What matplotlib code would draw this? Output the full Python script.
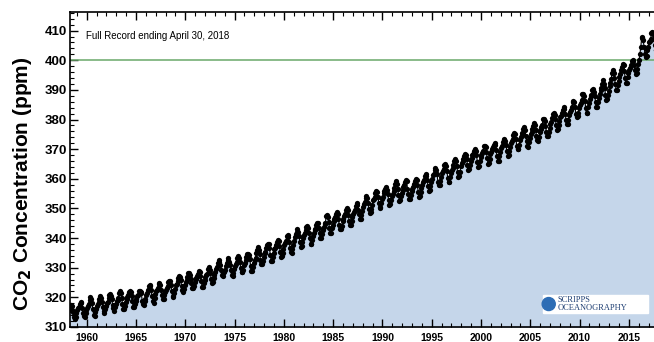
import numpy as np
import matplotlib
matplotlib.use("Agg")
import matplotlib.pyplot as plt
from matplotlib.patches import Ellipse, Rectangle
from matplotlib.ticker import MultipleLocator

plt.rcParams["font.family"] = ["Liberation Sans", "DejaVu Sans"]
plt.rcParams["mathtext.default"] = "bf"

# Monthly mean CO2 (ppm), Mauna Loa, March 1958 .. April 2018
START_YEAR, START_MONTH = 1958, 3
co2_ppm = [
    315.71, 317.45, 317.50, 317.10, 315.86, 314.93, 313.20, 312.66, 313.33, 314.67,
    315.62, 316.38, 316.71, 317.72, 318.29, 318.15, 316.54, 314.80, 313.84, 313.26, 314.80, 315.58,
    316.43, 316.97, 317.58, 319.02, 320.03, 319.59, 318.18, 315.91, 314.16, 313.83, 315.00, 316.19,
    316.93, 317.70, 318.54, 319.48, 320.58, 319.77, 318.57, 316.79, 314.80, 315.38, 316.10, 317.01,
    317.94, 318.56, 319.68, 320.63, 321.01, 320.55, 319.58, 317.40, 316.26, 315.42, 316.69, 317.69,
    318.74, 319.08, 319.86, 321.39, 322.25, 321.47, 319.74, 317.77, 316.21, 315.99, 317.12, 318.31,
    319.57, 320.07, 320.73, 321.77, 322.25, 321.89, 320.44, 318.70, 316.70, 316.79, 317.79, 318.71,
    319.44, 320.44, 320.89, 322.13, 322.16, 321.87, 321.39, 318.81, 317.81, 317.30, 318.87, 319.42,
    320.62, 321.59, 322.39, 323.87, 324.01, 323.75, 322.39, 320.37, 318.64, 318.10, 319.79, 321.08,
    322.07, 322.50, 323.04, 324.42, 325.00, 324.09, 322.55, 320.92, 319.31, 319.31, 320.72, 321.96,
    322.57, 323.15, 323.89, 325.02, 325.57, 325.36, 324.14, 322.03, 320.41, 320.25, 321.31, 322.84,
    324.00, 324.42, 325.64, 326.66, 327.34, 326.76, 325.88, 323.67, 322.38, 321.78, 322.85, 324.11,
    325.03, 325.99, 326.87, 328.13, 328.07, 327.66, 326.35, 324.69, 323.10, 323.16, 323.98, 325.13,
    326.17, 326.68, 327.18, 327.78, 328.92, 328.57, 327.34, 325.46, 323.36, 323.57, 324.80, 326.01,
    326.77, 327.63, 327.75, 329.72, 330.07, 329.09, 328.05, 326.32, 324.93, 325.06, 326.50, 327.55,
    328.54, 329.56, 330.30, 331.50, 332.48, 332.07, 330.87, 329.31, 327.51, 327.18, 328.16, 328.64,
    329.35, 330.71, 331.48, 332.65, 333.16, 332.06, 330.99, 329.17, 327.41, 327.20, 328.33, 329.50,
    330.68, 331.41, 331.85, 333.29, 333.91, 333.40, 331.78, 329.88, 328.57, 328.46, 329.26, 330.97,
    331.71, 332.76, 333.48, 334.78, 334.78, 334.17, 332.78, 330.64, 328.95, 328.77, 330.23, 331.69,
    332.70, 333.24, 334.96, 336.04, 336.82, 336.13, 334.73, 332.52, 331.19, 331.19, 332.35, 333.47,
    335.11, 335.26, 336.60, 337.77, 338.00, 337.99, 336.48, 334.37, 332.27, 332.41, 333.76, 334.83,
    336.21, 336.64, 337.80, 338.79, 339.26, 339.00, 337.38, 335.45, 333.71, 333.96, 335.07, 336.32,
    337.61, 338.45, 339.04, 340.63, 341.03, 340.29, 338.51, 336.75, 335.22, 335.10, 336.47, 337.72,
    339.03, 340.23, 341.36, 342.21, 342.96, 342.21, 340.57, 338.57, 336.87, 337.24, 338.64, 339.89,
    340.93, 341.69, 342.70, 343.64, 344.15, 343.45, 341.83, 339.95, 338.12, 337.93, 339.21, 340.58,
    341.63, 342.60, 343.04, 344.46, 345.24, 344.98, 343.52, 341.61, 339.86, 339.95, 341.33, 342.67,
    343.75, 344.70, 345.21, 347.36, 347.66, 346.95, 345.31, 343.38, 341.81, 341.82, 343.27, 344.53,
    345.79, 346.28, 347.04, 348.17, 348.75, 348.04, 346.39, 344.29, 342.95, 342.92, 344.19, 345.69,
    346.58, 347.32, 348.13, 349.43, 350.16, 349.47, 347.74, 345.69, 344.27, 344.51, 345.78, 347.20,
    348.18, 348.78, 349.49, 350.88, 351.75, 351.16, 349.50, 347.97, 346.38, 346.58, 347.95, 349.07,
    350.38, 351.61, 352.22, 353.56, 354.22, 353.51, 351.80, 349.89, 348.43, 348.71, 349.94, 351.10,
    352.68, 353.21, 353.81, 355.37, 355.92, 355.41, 353.85, 351.87, 350.06, 350.50, 351.67, 353.17,
    353.86, 355.08, 355.86, 356.58, 357.19, 356.33, 354.82, 352.88, 351.17, 351.46, 352.87, 354.13,
    354.95, 355.85, 357.06, 358.20, 359.15, 358.41, 356.72, 354.60, 352.60, 352.88, 354.20, 355.35,
    356.18, 357.07, 357.83, 359.01, 359.49, 359.09, 356.44, 354.87, 353.02, 353.28, 354.56, 355.93,
    356.66, 357.11, 358.26, 359.31, 360.04, 359.76, 357.76, 355.63, 353.74, 354.06, 355.43, 356.95,
    358.01, 358.96, 359.55, 360.89, 361.63, 360.95, 359.46, 357.47, 355.73, 356.05, 357.58, 358.94,
    359.91, 361.26, 361.69, 363.05, 363.62, 363.03, 361.55, 358.94, 357.93, 357.80, 359.20, 360.58,
    362.00, 362.66, 363.46, 364.53, 365.09, 364.37, 362.58, 360.24, 358.75, 359.07, 360.45, 362.01,
    362.92, 363.80, 364.54, 366.06, 366.52, 365.96, 364.47, 362.30, 360.64, 360.93, 362.44, 364.28,
    365.26, 365.85, 366.66, 367.84, 368.46, 368.16, 366.79, 364.56, 363.06, 363.23, 364.66, 365.90,
    367.02, 367.90, 368.30, 369.48, 370.06, 369.52, 368.10, 365.79, 363.96, 364.43, 365.91, 367.19,
    368.08, 368.79, 369.49, 371.01, 371.17, 370.63, 369.13, 366.98, 365.05, 365.21, 366.72, 368.20,
    369.19, 369.98, 370.69, 371.45, 372.09, 371.41, 369.72, 367.54, 365.87, 366.05, 367.70, 368.99,
    370.37, 371.09, 372.27, 372.95, 373.32, 372.86, 371.42, 369.27, 367.62, 367.93, 369.33, 370.73,
    371.93, 372.74, 373.44, 374.87, 375.62, 375.04, 373.39, 371.19, 369.91, 370.07, 371.45, 373.13,
    374.09, 374.92, 375.52, 376.75, 377.35, 376.62, 374.58, 372.63, 370.93, 370.87, 372.45, 373.90,
    375.11, 375.90, 376.69, 377.92, 378.74, 378.26, 376.62, 374.30, 373.13, 372.77, 374.17, 375.79,
    376.82, 377.32, 378.30, 380.10, 380.19, 379.66, 377.83, 375.86, 374.32, 374.52, 375.78, 377.29,
    378.48, 379.33, 380.51, 382.01, 382.08, 381.59, 380.25, 378.26, 376.60, 376.72, 378.19, 379.39,
    380.69, 381.21, 382.05, 383.29, 384.32, 383.43, 381.93, 379.84, 378.64, 378.58, 379.97, 381.41,
    382.64, 383.28, 384.22, 385.92, 386.42, 385.80, 384.09, 381.87, 380.84, 381.16, 382.34, 384.06,
    384.87, 385.61, 386.67, 388.49, 388.60, 387.86, 386.12, 383.81, 382.07, 382.27, 384.07, 385.69,
    386.94, 387.82, 388.31, 390.02, 390.23, 389.19, 387.89, 385.76, 384.34, 384.36, 385.99, 387.37,
    388.57, 390.06, 390.71, 392.02, 393.29, 392.14, 390.71, 388.37, 386.72, 387.00, 388.23, 389.79,
    391.33, 392.49, 393.60, 395.84, 396.68, 395.87, 394.07, 391.86, 389.98, 390.02, 391.68, 393.03,
    394.19, 395.37, 396.64, 397.56, 398.64, 398.31, 396.40, 394.06, 392.30, 392.28, 394.47, 395.58,
    396.58, 397.30, 398.42, 399.82, 400.12, 399.78, 398.45, 396.72, 395.47, 395.70, 397.15, 398.79,
    400.25, 402.22, 404.33, 407.45, 407.72, 406.83, 404.41, 402.27, 401.05, 401.59, 403.55, 404.45,
    406.17, 406.46, 407.22, 409.04, 409.69, 408.88, 407.12, 405.13, 403.37, 403.63, 405.12, 406.81,
    407.96, 408.32, 409.41, 410.24,
]
REF_LEVEL = 400
TITLE = "Full Record ending April 30, 2018"

FILL = "#c5d6ea"
GREEN = "#6aa86a"

n = len(co2_ppm)
dates = START_YEAR + (START_MONTH - 1 + np.arange(n) + 0.5) / 12.0
co2 = np.array(co2_ppm)

fig = plt.figure(figsize=(6.54, 3.42), dpi=100, facecolor="white")
ax = fig.add_axes([0.107, 0.044, 0.893, 0.921])

ax.fill_between(dates, co2, 300, color=FILL, lw=0, zorder=1)
ax.axhline(REF_LEVEL, color=GREEN, lw=1.1, zorder=2)
ax.plot(dates, co2, color="black", lw=0.8, zorder=3)
ax.plot(dates, co2, "o", color="black", ms=3.8, mew=0, zorder=4)

ax.set_xlim(1958.3, 2017.55)
ax.set_ylim(310, 416.3)

ax.xaxis.set_major_locator(MultipleLocator(5))
ax.xaxis.set_minor_locator(MultipleLocator(1))
ax.yaxis.set_major_locator(MultipleLocator(10))
ax.yaxis.set_minor_locator(MultipleLocator(2))
ax.tick_params(which="both", direction="in", top=True, right=False)
ax.tick_params(which="major", length=6, width=1.0)
ax.tick_params(which="minor", length=3, width=0.8)
ax.tick_params(axis="y", labelsize=9.5, pad=2)
ax.tick_params(axis="x", labelsize=7.5, pad=4)
for lab in ax.get_xticklabels() + ax.get_yticklabels():
    lab.set_fontweight("bold")
for side in ["left", "top", "bottom"]:
    ax.spines[side].set_linewidth(1.2)
ax.spines["right"].set_visible(False)

ax.set_ylabel(r"CO$_\mathbf{2}$ Concentration (ppm)", fontsize=15,
              fontweight="bold")
ax.yaxis.set_label_coords(-0.062, 0.455)

ax.text(0.027, 0.925, TITLE, transform=ax.transAxes, fontsize=7,
        ha="left", va="center")

# Scripps logo stand-in
fig.add_artist(Rectangle((0.830, 0.085), 0.161, 0.053,
                         transform=fig.transFigure, color="white"))
fig.add_artist(Ellipse((0.839, 0.111), 0.02, 0.038, transform=fig.transFigure,
                       color="#2d6db5"))
fig.text(0.852, 0.124, "SCRIPPS", fontsize=6, family="Liberation Serif",
         color="#1f3f73", ha="left", va="center")
fig.text(0.852, 0.098, "OCEANOGRAPHY", fontsize=6, family="Liberation Serif",
         color="#1f3f73", ha="left", va="center")

fig.savefig("out.png", dpi=100, facecolor="white")
